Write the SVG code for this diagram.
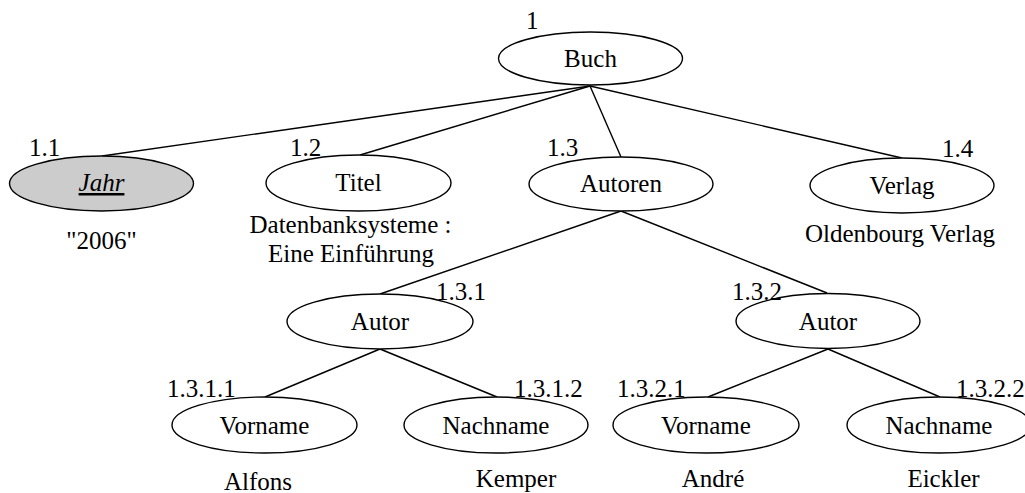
<svg xmlns="http://www.w3.org/2000/svg" width="1025" height="493" viewBox="0 0 1025 493">
<style>
  text { font-family: "Liberation Serif", "Times New Roman", serif; font-size: 25px; fill: #000; }
  .c { text-anchor: middle; }
  .n ellipse { fill: #fff; stroke: #000; stroke-width: 1.4; }
  .n ellipse.key { fill: #cccccc; }
  #connectors line { stroke: #000; stroke-width: 1.4; }
</style>
<rect width="1025" height="493" fill="#fff"/>
<g id="connectors">
  <line x1="590" y1="86" x2="102" y2="156"/>
  <line x1="590" y1="86" x2="360" y2="155"/>
  <line x1="590" y1="86" x2="621" y2="157"/>
  <line x1="590" y1="86" x2="902" y2="158"/>
  <line x1="621" y1="211" x2="380" y2="294"/>
  <line x1="621" y1="211" x2="827" y2="293"/>
  <line x1="380" y1="349" x2="265" y2="397"/>
  <line x1="380" y1="349" x2="497" y2="397"/>
  <line x1="828" y1="349" x2="708" y2="397"/>
  <line x1="828" y1="349" x2="940" y2="397"/>
</g>
<g id="buch" class="n">
  <ellipse cx="590.5" cy="58.5" rx="92" ry="26.5"/>
  <text x="526" y="29">1</text>
  <text class="c" x="590.5" y="67">Buch</text>
</g>
<g id="jahr" class="n">
  <ellipse class="key" cx="101.5" cy="183.5" rx="92" ry="27.5"/>
  <text x="29" y="156">1.1</text>
  <text class="c" x="101.5" y="191" font-style="italic" text-decoration="underline">Jahr</text>
  <text class="c" x="101.5" y="249">"2006"</text>
</g>
<g id="titel" class="n">
  <ellipse cx="358.5" cy="183" rx="92.5" ry="28"/>
  <text x="290" y="156">1.2</text>
  <text class="c" x="358.5" y="191">Titel</text>
  <text class="c" x="350.5" y="233">Datenbanksysteme :</text>
  <text class="c" x="351" y="262">Eine Einführung</text>
</g>
<g id="autoren" class="n">
  <ellipse cx="621" cy="184" rx="92" ry="27"/>
  <text x="547" y="156">1.3</text>
  <text class="c" x="621" y="192">Autoren</text>
</g>
<g id="verlag" class="n">
  <ellipse cx="902" cy="185.5" rx="92" ry="27.5"/>
  <text x="942" y="157">1.4</text>
  <text class="c" x="902" y="194">Verlag</text>
  <text class="c" x="900" y="242">Oldenbourg Verlag</text>
</g>
<g id="autor1" class="n">
  <ellipse cx="380" cy="321.5" rx="93" ry="27.5"/>
  <text x="436" y="300">1.3.1</text>
  <text class="c" x="380" y="330">Autor</text>
</g>
<g id="autor2" class="n">
  <ellipse cx="828" cy="321" rx="92" ry="27.5"/>
  <text x="732" y="300">1.3.2</text>
  <text class="c" x="828" y="330">Autor</text>
</g>
<g id="vorname1" class="n">
  <ellipse cx="264.5" cy="425" rx="92.5" ry="28"/>
  <text x="167" y="397">1.3.1.1</text>
  <text class="c" x="264.5" y="434">Vorname</text>
  <text class="c" x="258" y="490">Alfons</text>
</g>
<g id="nachname1" class="n">
  <ellipse cx="496" cy="425" rx="92" ry="28"/>
  <text x="514" y="397">1.3.1.2</text>
  <text class="c" x="496" y="434">Nachname</text>
  <text class="c" x="516" y="487">Kemper</text>
</g>
<g id="vorname2" class="n">
  <ellipse cx="706" cy="425" rx="93" ry="28"/>
  <text x="617" y="397">1.3.2.1</text>
  <text class="c" x="706" y="434">Vorname</text>
  <text class="c" x="713" y="487">André</text>
</g>
<g id="nachname2" class="n">
  <ellipse cx="939" cy="425" rx="92" ry="28"/>
  <text x="956" y="397">1.3.2.2</text>
  <text class="c" x="939" y="434">Nachname</text>
  <text class="c" x="943.5" y="487">Eickler</text>
</g>
</svg>
